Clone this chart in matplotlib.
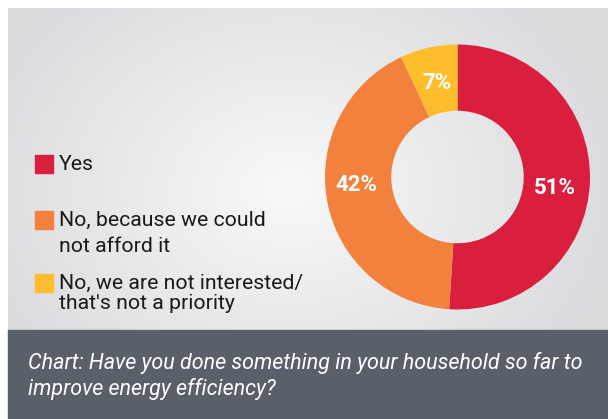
import numpy as np
import matplotlib
matplotlib.use("Agg")
import matplotlib.pyplot as plt
from matplotlib.patches import Rectangle

plt.rcParams['font.family'] = ['Roboto', 'DejaVu Sans']

# Survey answers and shares (%)
answers = ["Yes", "No, because we could\nnot afford it", "No, we are not interested/\nthat's not a priority"]
shares = [51, 42, 7]
colors = ['#d91f3d', '#f2813d', '#fdbd2c']
caption = "Chart: Have you done something in your household so far to\nimprove energy efficiency?"

# where each percentage sits inside the ring (pie axes units, baseline)
label_pos = [(0.736, -0.128), (-0.766, -0.103), (-0.155, 0.662)]

W, H = 608, 419
fig = plt.figure(figsize=(W / 100, H / 100), dpi=100, facecolor='white')

# background layer in pixel coordinates
bg = fig.add_axes([0, 0, 1, 1])
bg.set_xlim(0, W)
bg.set_ylim(H, 0)
bg.axis('off')

# soft radial gradient on the panel
x0, x1, y0, y1 = 8, W, 9, 330
xx, yy = np.meshgrid(np.linspace(x0, x1, 300), np.linspace(y0, y1, 160))
d = np.sqrt(((xx - 290) / 330) ** 2 + ((yy - 190) / 260) ** 2)
d = np.clip(d, 0, 1)
light = np.array([0.975, 0.975, 0.975])
dark = np.array([0.855, 0.86, 0.87])
img = light[None, None, :] * (1 - d[..., None]) + dark[None, None, :] * d[..., None]
bg.imshow(img, extent=(x0, x1, y1, y0), aspect='auto', interpolation='bilinear', zorder=0)

# caption band
bg.add_patch(Rectangle((8, 330), W - 8, H - 330, color='#5a6069', zorder=1))
for i, line in enumerate(caption.split("\n")):
    bg.text(28, 369 + i * 26, line, color='white', fontsize=15.5, fontstyle='italic',
            va='baseline', ha='left', zorder=2)

# legend
sq = 18
legend_rows = [[164], [220, 246], [283, 303]]
for ans, col, rows in zip(answers, colors, legend_rows):
    yc = rows[0]
    bg.add_patch(Rectangle((35, yc - sq / 2), sq, sq, color=col, zorder=2))
    for line, y in zip(ans.split("\n"), rows):
        bg.text(59, y, line, color='#1a1a1a', fontsize=15.3, va='center', ha='left', zorder=2)

# donut
cx, cy, r = 457.5, 177, 132.5
ax = fig.add_axes([(cx - r) / W, 1 - (cy + r) / H, 2 * r / W, 2 * r / H])
ax.pie(shares, colors=colors, startangle=90, counterclock=False, radius=1,
       wedgeprops=dict(width=0.5, linewidth=0))
for val, (lx, ly) in zip(shares, label_pos):
    ax.text(lx, ly, f"{val}%", color='white', fontsize=16, fontweight='bold',
            ha='center', va='baseline')
ax.set_xlim(-1, 1)
ax.set_ylim(-1, 1)
ax.set_aspect('auto')
ax.axis('off')

fig.savefig('out.png', dpi=100, facecolor='white')
